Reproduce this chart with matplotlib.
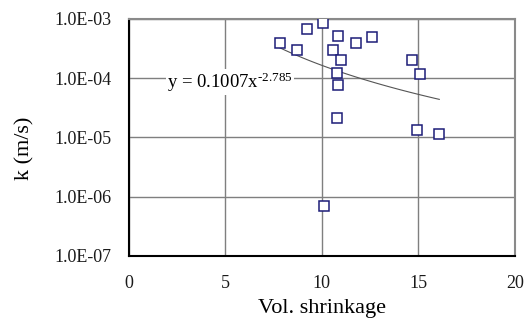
import numpy as np
import matplotlib
matplotlib.use('Agg')
import matplotlib.pyplot as plt

plt.rcParams['font.family'] = ['Liberation Serif', 'DejaVu Serif']
plt.rcParams['mathtext.fontset'] = 'custom'
plt.rcParams['mathtext.rm'] = 'Liberation Serif'
plt.rcParams['mathtext.it'] = 'Liberation Serif:italic'

# данные
shrinkage = [7.82, 8.72, 9.23, 10.04, 10.86, 10.58, 11.0, 11.77, 12.61,
             10.77, 10.82, 10.77, 14.68, 15.08, 14.91, 16.08, 10.11]
k_values = [4.0e-4, 3.0e-4, 6.8e-4, 8.7e-4, 5.2e-4, 3.0e-4, 2.0e-4, 4.0e-4, 5.0e-4,
            1.24e-4, 7.7e-5, 2.1e-5, 2.0e-4, 1.2e-4, 1.34e-5, 1.14e-5, 7.1e-7]
fit_a = 0.1007
fit_b = -2.785
x_ticks = [0, 5, 10, 15, 20]
y_ticks = [1e-7, 1e-6, 1e-5, 1e-4, 1e-3]
y_tick_labels = ['1.0E-07', '1.0E-06', '1.0E-05', '1.0E-04', '1.0E-03']

fig = plt.figure(figsize=(5.31, 3.22), dpi=100)
ax = fig.add_axes([0.242, 0.205, 0.728, 0.736])

# линия тренда
xf = np.linspace(min(shrinkage), max(shrinkage), 100)
ax.plot(xf, fit_a * xf ** fit_b, color='#555555', linewidth=0.8, zorder=2)

ax.plot(shrinkage, k_values, linestyle='none', marker='s', markersize=6.5,
        markerfacecolor='white', markeredgecolor='#1c1c78', markeredgewidth=1.1, zorder=3)

ax.set_yscale('log')
ax.set_xlim(0, 20)
ax.set_ylim(1e-7, 1e-3)
ax.set_xticks(x_ticks)
ax.set_yticks(y_ticks)
ax.set_yticklabels(y_tick_labels)
ax.minorticks_off()
ax.tick_params(length=0, labelsize=13, pad=12, labelcolor='#1a1a1a')
ax.tick_params(axis='x', pad=14)
ax.grid(True, color='#7f7f7f', linewidth=1)
ax.set_axisbelow(True)

for s in ['left', 'bottom']:
    ax.spines[s].set_color('black')
    ax.spines[s].set_linewidth(1.5)
for s in ['top', 'right']:
    ax.spines[s].set_color('#8a8a8a')
    ax.spines[s].set_linewidth(1.5)

ax.set_xlabel('Vol. shrinkage', fontsize=16, labelpad=5)
ax.set_ylabel('k (m/s)', fontsize=16)
ax.yaxis.set_label_coords(-0.244, 0.454)

ax.text(2.0, 6.9e-5, 'y = 0.1007x$^{\\text{-}2.785}$', fontsize=13.5, va='baseline', ha='left',
        bbox=dict(facecolor='white', edgecolor='none', pad=1), zorder=4)

plt.savefig('out.png', dpi=100)
